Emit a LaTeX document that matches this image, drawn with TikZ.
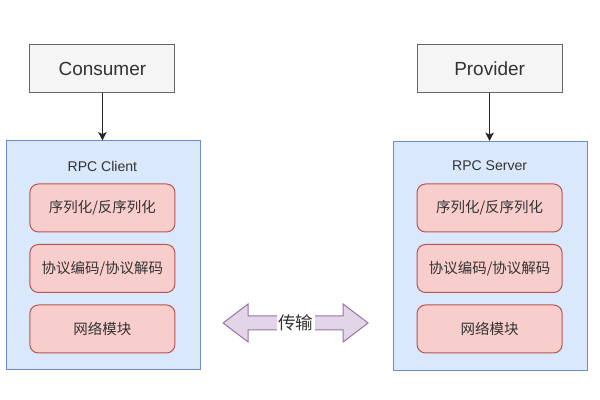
\documentclass[tikz,border=0pt]{standalone}
\usepackage{fontspec}
\setmainfont{Liberation Sans}
\newfontfamily\cjk{Noto Sans CJK SC}
\usepackage{tikz}
\usetikzlibrary{positioning,arrows.meta}

\definecolor{greyfill}{HTML}{F5F5F5}
\definecolor{greyline}{HTML}{666666}
\definecolor{bluefill}{HTML}{DAE8FC}
\definecolor{blueline}{HTML}{6C8EBF}
\definecolor{redfill}{HTML}{F8CECC}
\definecolor{redline}{HTML}{B85450}
\definecolor{purplefill}{HTML}{E1D5E7}
\definecolor{purpleline}{HTML}{9673A6}
\definecolor{txt}{HTML}{333333}

\tikzset{
  role/.style={draw=greyline, fill=greyfill, line width=0.7pt, minimum width=3.625cm, minimum height=1.2cm, text=txt, font=\fontsize{13.5}{15}\selectfont},
  group/.style={draw=blueline, fill=bluefill, line width=0.7pt, minimum width=4.85cm, minimum height=5.725cm},
  layer/.style={draw=redline, fill=redfill, line width=0.7pt, rounded corners=6pt, minimum width=3.625cm, minimum height=1.2cm, text=txt, font=\cjk\fontsize{10.3}{12}\selectfont},
  title/.style={text=txt, font=\fontsize{10}{12}\selectfont},
  call/.style={line width=0.7pt, draw=black!85, -{Stealth[length=6pt,width=6pt,inset=1.5pt]}}
}

\begin{document}
\begin{tikzpicture}
\useasboundingbox (0,0) rectangle (15,10);

% client side
\node[role] (consumer) at (2.56,8.28) {Consumer};
\node[group] (client) at (2.575,3.6125) {};
\node[title] (clienttitle) at (2.56,5.85) {RPC Client};
\node[layer] (cser) at (2.56,4.8) {序列化/反序列化};
\node[layer] (cproto) at (2.56,3.2875) {协议编码/协议解码};
\node[layer] (cnet) at (2.56,1.775) {网络模块};
\draw[call] (consumer) -- (consumer |- client.north);

% server side
\node[role] (provider) at (12.24,8.28) {Provider};
\node[group] (server) at (12.25,3.6) {};
\node[title] (servertitle) at (12.24,5.85) {RPC Server};
\node[layer] (sser) at (12.24,4.8) {序列化/反序列化};
\node[layer] (sproto) at (12.24,3.2875) {协议编码/协议解码};
\node[layer] (snet) at (12.24,1.775) {网络模块};
\draw[call] (provider) -- (provider |- server.north);

% transport
\begin{scope}[shift={(7.39,1.925)}]
\draw[draw=purpleline, fill=purplefill, line width=0.7pt]
  (-1.8125,0) -- (-1.1875,0.475) -- (-1.1875,0.175) -- (1.1875,0.175) -- (1.1875,0.475)
  -- (1.8125,0) -- (1.1875,-0.475) -- (1.1875,-0.175) -- (-1.1875,-0.175) -- (-1.1875,-0.475) -- cycle;
\node[fill=white, inner sep=1pt, text=txt, font=\cjk\fontsize{12.5}{14}\selectfont] (link) at (0,0) {传输};
\end{scope}
\end{tikzpicture}
\end{document}
